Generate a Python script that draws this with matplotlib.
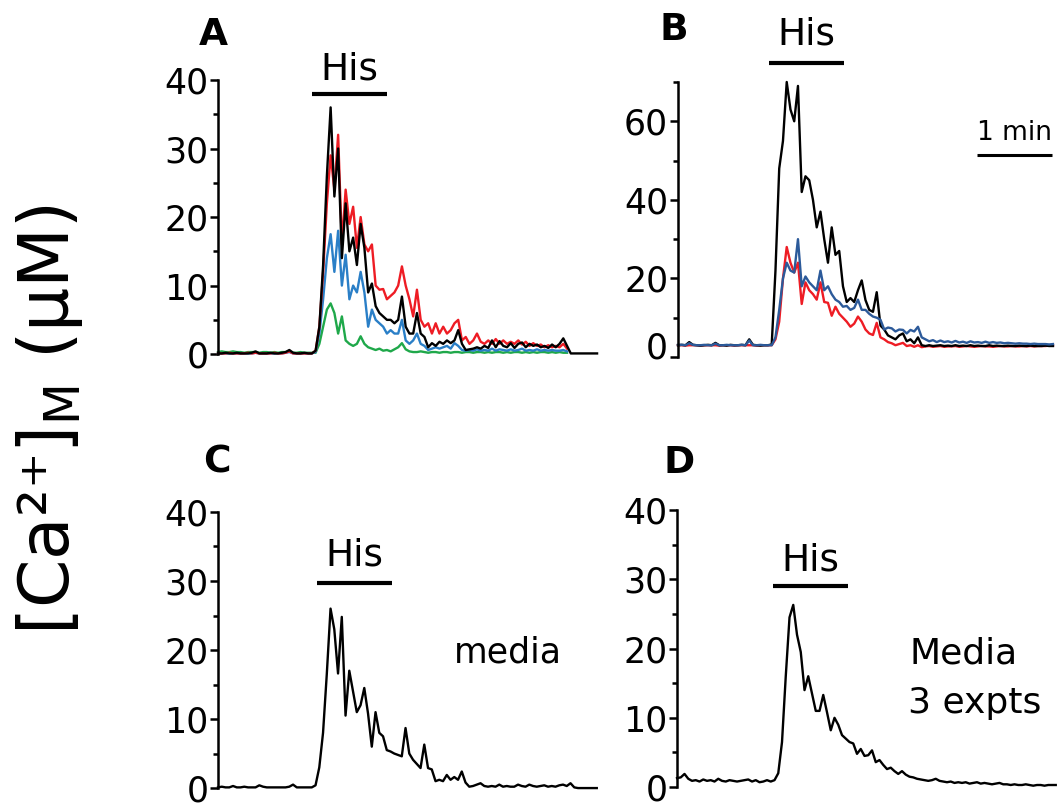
import numpy as np
import matplotlib
matplotlib.use("Agg")
import matplotlib.pyplot as plt
from matplotlib.transforms import ScaledTranslation

DT = 3.0  # sampling interval, s

# ---- Panel A: four cells, [Ca2+]M in uM ----
a_black = [0.1, 0.1, 0.2, 0.1, 0.1, 0.2, 0.1, 0.1, 0.1, 0.2,
           0.4, 0.1, 0.1, 0.1, 0.2, 0.1, 0.1, 0.2, 0.3, 0.6,
           0.2, 0.1, 0.1, 0.2, 0.1, 0.1,
           0.5, 4, 13, 26, 36, 23, 30, 14, 22, 15, 17, 13, 19, 15.5, 9, 10.3,
           7, 6, 5.5, 5, 5, 4.5, 5, 8.4, 4, 3, 3, 6, 3, 2.5, 1, 1.6, 1.2, 1.8,
           1.5, 2, 1.6, 2, 3.5, 1.5, 0.6, 0.7, 0.8, 1.0, 0.8, 1.2, 0.9, 2.0,
           1.0, 1.9, 1.2, 1.0, 1.6, 0.9, 1.5, 1.7, 1.0, 1.5, 1.2, 1.4, 1.0,
           1.2, 0.9, 1.4, 1.0, 1.5, 2.3, 1.2, 0.1, 0.1, 0.1, 0.1, 0.1, 0.1,
           0.1, 0.1]
a_red = [0.1, 0.1, 0.1, 0.2, 0.1, 0.1, 0.1, 0.1, 0.2, 0.1,
         0.2, 0.1, 0.1, 0.1, 0.1, 0.2, 0.1, 0.1, 0.2, 0.4,
         0.1, 0.1, 0.1, 0.1, 0.1, 0.1,
         0.5, 4, 12, 22, 29, 24, 32, 16, 24, 19, 21.5, 15.5, 20, 16, 15, 16,
         10, 9.4, 9.5, 8, 8.5, 9, 10, 12.8, 10, 8, 5.5, 9.4, 5, 4, 4.5, 3,
         4.5, 3, 4, 3, 3.5, 4.5, 5, 2, 2.5, 1.5, 2, 3, 1.8, 1.5, 2, 1.5, 2.2,
         1.5, 2.0, 1.5, 1.8, 1.5, 2, 1.4, 1.8, 1.2, 1.6, 1.2, 1.4, 1.0, 1.3,
         1.0, 1.2, 1.0, 1.5, 0.8]
a_blue = [0.1, 0.1, 0.1, 0.1, 0.1, 0.1, 0.1, 0.1, 0.1, 0.1,
          0.2, 0.1, 0.1, 0.1, 0.1, 0.1, 0.1, 0.1, 0.2, 0.3,
          0.1, 0.1, 0.1, 0.1, 0.1, 0.1,
          0.3, 3, 8, 14, 17.5, 12, 18, 10, 14.5, 8, 10, 9, 12, 9, 4, 6.5,
          5, 4.5, 4, 3, 3.5, 3, 3, 5, 2, 1.5, 2, 3, 1.5, 1.2, 0.6, 0.8, 1.0,
          0.8, 1.0, 1.2, 0.8, 1.6, 1.2, 0.6,
          0.5, 0.6, 0.5, 0.7, 0.5, 0.6, 0.5, 0.8, 0.5, 0.7, 0.6, 0.5, 0.7,
          0.5, 0.6, 0.8, 0.5, 0.6, 0.5, 0.7, 0.5, 0.6, 0.5, 0.6, 0.5, 0.5,
          0.6, 0.4]
a_green = [0.3, 0.4, 0.3, 0.3, 0.4, 0.3, 0.3, 0.2, 0.3, 0.3,
           0.3, 0.2, 0.3, 0.3, 0.2, 0.3, 0.2, 0.3, 0.3, 0.4,
           0.2, 0.2, 0.3, 0.2, 0.2, 0.2,
           0.2, 1.5, 4, 6.5, 7.4, 6, 3, 5.5, 2, 1.5, 1.2, 1.5, 2.6, 1.5, 1,
           0.8, 0.6, 0.8, 0.5, 0.6, 0.4, 0.7, 1.0, 1.6, 0.7, 0.4,
           0.3, 0.3, 0.4, 0.3, 0.2, 0.3, 0.3, 0.2, 0.3, 0.3,
           0.2, 0.3, 0.3, 0.2, 0.3, 0.3, 0.2, 0.3, 0.3, 0.2,
           0.3, 0.2, 0.3, 0.3, 0.2, 0.3, 0.2, 0.3, 0.3, 0.2,
           0.3, 0.2, 0.3, 0.2, 0.3, 0.3, 0.2, 0.3, 0.2, 0.3,
           0.2, 0.2]

# ---- Panel B: three cells ----
b_black = [3.0, 3.1, 3.0, 3.8, 3.1, 3.0, 2.9, 3.0, 3.1, 3.0,
           3.6, 3.0, 3.0, 2.9, 3.1, 3.0, 3.0, 3.1, 3.0, 4.5,
           3.1, 3.0, 2.9, 3.0, 3.0,
           3.2, 22, 48, 55, 70, 63, 60, 69, 42, 46, 45, 40, 33, 37, 30, 24,
           33, 26, 27, 18, 14, 15, 14, 17, 19.5, 14.5, 12, 11.5, 16.5, 8, 7,
           5.5, 5, 4.5, 5.5, 6, 4, 4.5, 3.5, 5, 3,
           2.8, 3.0, 2.8, 2.9, 3.0, 2.8, 2.9, 2.8, 3.0, 2.8,
           2.9, 2.8, 3.0, 2.8, 2.9, 2.8, 2.8, 3.0, 2.8, 2.9,
           2.8, 2.8, 2.9, 2.8, 2.8, 2.9, 2.8, 2.8, 2.9, 2.8,
           2.8, 2.8, 2.9, 2.8, 2.8]
b_red = [3.0, 3.0, 2.9, 3.0, 3.0, 3.0, 2.9, 3.0, 3.0, 3.0,
         3.0, 2.9, 3.0, 3.0, 3.0, 2.9, 3.0, 3.0, 3.0, 3.0,
         3.0, 2.9, 3.0, 3.0, 3.0,
         3, 4.5, 9, 20, 28, 24, 21.5, 24, 13.5, 19, 17, 16, 14.6, 19, 14,
         13.8, 10.5, 12.8, 11, 10, 9, 7.7, 8.5, 10.3, 9, 7, 6, 5.6, 8.7, 5,
         4.5, 3.8, 3.5, 3, 3.3, 3.6, 2.8, 3, 2.6, 3, 2.5,
         2.7, 2.8, 2.6, 2.7, 2.8, 2.6, 2.7, 2.7, 2.8, 2.6,
         2.7, 2.8, 2.7, 2.6, 2.7, 2.8, 2.7, 2.7, 2.6, 2.7,
         2.8, 2.7, 2.7, 2.8, 2.7, 2.7, 2.8, 2.7, 2.8, 2.7,
         2.8, 2.8, 2.8, 2.9, 2.9]
b_blue = [3.1, 3.1, 3.0, 3.5, 3.1, 3.0, 3.0, 3.1, 3.0, 3.0,
          3.4, 3.0, 3.0, 3.1, 3.0, 3.0, 3.0, 3.1, 3.0, 4.2,
          3.0, 3.0, 3.1, 3.0, 3.0,
          3, 5, 12, 20, 24, 22, 21.5, 30, 18, 20.5, 19, 18, 17, 22, 17, 18,
          16, 14.6, 14, 12.8, 13, 12, 12.5, 14.6, 12, 12, 11, 10.3, 10, 9.5,
          7, 7.5, 7.3, 6.5, 7, 6.9, 6, 6.9, 6.5, 7.7, 5, 4.5, 4, 4.3, 3.8,
          4.2, 3.8, 4.0,
          3.7, 4.1, 3.7, 3.9, 3.6, 4.0, 3.7, 3.8, 3.6, 3.9,
          3.6, 3.8, 3.6, 3.7, 3.5, 3.6, 3.5, 3.4, 3.5, 3.4,
          3.4, 3.3, 3.4, 3.3, 3.3, 3.3, 3.2, 3.3]

# ---- Panel C: media, single experiment ----
c_trace = [0.1, 0.2, 0.1, 0.1, 0.3, 0.1, 0.1, 0.2, 0.1, 0.1,
           0.1, 0.4, 0.2, 0.1, 0.1, 0.1, 0.1, 0.1, 0.1, 0.2,
           0.5, 0.1, 0.1, 0.1, 0.1, 0.1,
           0.4, 3, 8, 16.5, 26, 23, 16.6, 24.8, 10.5, 17, 14, 11, 12, 14.5,
           10.8, 6, 11, 8, 7.5, 5.5, 5.3, 5, 4.8, 4.6, 8.7, 5, 4.1, 3.5, 2.9,
           6.3, 2.9, 2.7, 1.0, 1.2, 1.0, 1.9, 1.2, 1.6, 1.2, 2.4, 0.8, 0.2,
           0.3, 0.5, 0.7, 0.3, 0.2, 0.3, 0.2, 0.5, 0.2, 0.3, 0.2, 0.2, 0.5,
           0.3, 0.2, 0.5, 0.3, 0.2, 0.3, 0.4, 0.2, 0.3, 0.2, 0.4, 0.5, 0.3,
           0.7, 0.1, 0.0, 0.0, 0.0, 0.0, 0.0, 0.0]

# ---- Panel D: media, mean of 3 experiments ----
d_trace = [1.3, 1.4, 1.9, 1.2, 0.9, 1.0, 0.8, 1.1, 0.9, 1.0,
           0.8, 1.2, 0.9, 0.8, 1.0, 0.9, 0.8, 0.9, 1.0, 1.1,
           0.8, 1.0, 0.7, 0.8, 1.0, 0.8,
           1.0, 2.0, 6.5, 16, 24.5, 26.3, 22, 19.5, 14, 16, 13.5, 11, 11,
           13.3, 10.8, 8.2, 10, 9, 7.5, 7, 6.5, 6.3, 4.8, 5.5, 4.5, 4.6, 5.3,
           3.6, 3.9, 3.2, 2.6, 2.8, 2.3, 1.9, 2.3, 1.8, 1.5, 1.4, 1.2, 1.1,
           1.0, 0.9, 1.0, 1.2, 0.9, 0.8, 0.7, 0.8, 0.6, 0.7, 0.6, 0.7, 0.5,
           0.6, 0.7, 0.5, 0.6, 0.5, 0.4, 0.5, 0.6, 0.4, 0.4, 0.3, 0.4, 0.3,
           0.3, 0.4, 0.3, 0.2, 0.3, 0.3, 0.2, 0.3, 0.3, 0.3]

# histamine application windows (s) and scale bar
his_a = (75, 135)
his_b = (73, 133)
his_c = (79, 139)
his_d = (77, 137)
scale_bar = (239, 299)

RED = "#ee1c24"
BLUE_A = "#2a7fc7"
GREEN = "#1fa84a"
BLUE_B = "#2c5a9a"

plt.rcParams["font.family"] = ["DejaVu Sans"]

fig = plt.figure(figsize=(10.59, 8.07), dpi=100)


def trace(ax, values, color):
    y = np.asarray(values, dtype=float)
    t = np.arange(len(y)) * DT
    ax.plot(t, y, color=color, lw=1.7, solid_joinstyle="round", clip_on=False)


def panel(rect, xmax, ylim, major, minor):
    ax = fig.add_axes(rect)
    ax.set_xlim(0, xmax)
    ax.set_ylim(*ylim)
    for s in ("top", "right", "bottom"):
        ax.spines[s].set_visible(False)
    ax.spines["left"].set_bounds(0, ylim[1])
    ax.spines["left"].set_linewidth(1.8)
    ax.set_xticks([])
    ax.set_yticks(major)
    ax.set_yticks(minor, minor=True)
    ax.tick_params(axis="y", which="major", length=6, width=1.8, pad=1,
                   labelsize=25)
    ax.tick_params(axis="y", which="minor", length=3.5, width=1.8)
    ax.patch.set_alpha(0)
    return ax


def his_bar(ax, window, ybar, ytext):
    ax.plot(window, [ybar, ybar], color="black", lw=3,
            solid_capstyle="butt", clip_on=False)
    ax.text(sum(window) / 2, ytext, "His", ha="center", va="baseline",
            fontsize=27)


major40 = [0, 10, 20, 30, 40]
minor40 = [5, 15, 25, 35]

# A
ax_a = panel([0.2059, 0.5527, 0.3579, 0.3482], 303, (-1, 40), major40, minor40)
trace(ax_a, a_green, GREEN)
trace(ax_a, a_blue, BLUE_A)
trace(ax_a, a_red, RED)
trace(ax_a, a_black, "black")
his_bar(ax_a, his_a, 38.0, 40.0)

# B
ax_b = panel([0.6402, 0.5576, 0.3541, 0.3408], 300, (0, 70),
             [0, 20, 40, 60], [10, 30, 50, 70])
trace(ax_b, b_red, RED)
trace(ax_b, b_black, "black")
trace(ax_b, b_blue, BLUE_B)
his_bar(ax_b, his_b, 74.8, 79.5)
ax_b.plot(scale_bar, [51.4, 51.4], color="black", lw=2.2,
          solid_capstyle="butt", clip_on=False)
ax_b.text(sum(scale_bar) / 2, 55.2, "1 min", ha="center", va="baseline",
          fontsize=19)
zero_tick = ax_b.yaxis.get_major_ticks()[0]
zero_tick.label1.set_transform(zero_tick.label1.get_transform()
                               + ScaledTranslation(0, 0.12, fig.dpi_scale_trans))

# C
ax_c = panel([0.2059, 0.0149, 0.3588, 0.3507], 304, (-1, 40), major40, minor40)
trace(ax_c, c_trace, "black")
his_bar(ax_c, his_c, 29.7, 32.3)
ax_c.text(232, 18.2, "media", ha="center", va="baseline", fontsize=25)

# D
ax_d = panel([0.6393, 0.0161, 0.3588, 0.3519], 304, (-1, 40), major40, minor40)
trace(ax_d, d_trace, "black")
his_bar(ax_d, his_d, 29.0, 31.3)
ax_d.text(186, 17.9, "Media", ha="left", va="baseline", fontsize=26)
ax_d.text(185, 10.7, "3 expts", ha="left", va="baseline", fontsize=26)

# panel letters
W, H = 1059.0, 807.0
for letter, x, yb in (("A", 213, 45), ("B", 674, 40), ("C", 217, 473), ("D", 679, 473)):
    fig.text(x / W, 1 - yb / H, letter, ha="center", va="baseline",
             fontsize=27, fontweight="bold")

fig.text(50 / W, 1 - 420 / H,
         "[Ca\u00b2\u207a]$_{\\mathregular{M}}$ (\u00b5M)",
         rotation=90, ha="center", va="center", fontsize=50)

fig.savefig("out.png", dpi=100)
